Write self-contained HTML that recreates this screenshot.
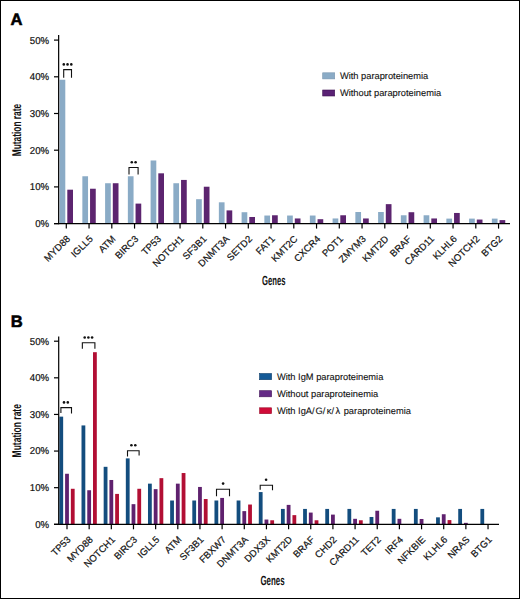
<!DOCTYPE html>
<html><head><meta charset="utf-8"><title>Mutation rate by paraproteinemia</title><style>
html,body{margin:0;padding:0;background:#fff;overflow:hidden;}
svg{display:block;}
text{font-family:"Liberation Sans", sans-serif;fill:#111;text-rendering:geometricPrecision;}
.t{font-size:9.3px;stroke:#111;stroke-width:0.1px;}
.yt{font-size:10px;stroke:#111;stroke-width:0.2px;}
.gt{font-size:9.6px;stroke:#111;stroke-width:0.2px;}
.ax{stroke:#000;stroke-width:1.2;fill:none;}
.br{stroke:#111;stroke-width:1.1;fill:none;}
.dot{fill:#111;}
.ttl{font-size:12.7px;font-weight:bold;fill:#111;}
.ttl2{font-size:13.3px;font-weight:bold;fill:#111;}
.pl{font-size:16.6px;font-weight:bold;fill:#000;stroke:#000;stroke-width:0.55px;}
</style></head><body>
<svg width="520" height="599" viewBox="0 0 520 599">
<rect x="0.5" y="0.5" width="519" height="598" fill="#fff" stroke="#000" stroke-width="1"/>
<text x="10.6" y="24.8" class="pl">A</text>
<rect x="59.6" y="79.74" width="5.7" height="143.86" fill="#8AABC6"/>
<rect x="67.3" y="189.69" width="5.7" height="33.91" fill="#5C246F"/>
<rect x="82.35" y="176.26" width="5.7" height="47.34" fill="#8AABC6"/>
<rect x="90.05" y="188.73" width="5.7" height="34.87" fill="#5C246F"/>
<rect x="105.1" y="183.23" width="5.7" height="40.37" fill="#8AABC6"/>
<rect x="112.8" y="183.23" width="5.7" height="40.37" fill="#5C246F"/>
<rect x="127.85" y="176.26" width="5.7" height="47.34" fill="#8AABC6"/>
<rect x="135.55" y="203.6" width="5.7" height="20" fill="#5C246F"/>
<rect x="150.6" y="160.48" width="5.7" height="63.12" fill="#8AABC6"/>
<rect x="158.3" y="173.32" width="5.7" height="50.28" fill="#5C246F"/>
<rect x="173.35" y="183.23" width="5.7" height="40.37" fill="#8AABC6"/>
<rect x="181.05" y="179.93" width="5.7" height="43.67" fill="#5C246F"/>
<rect x="196.1" y="199.19" width="5.7" height="24.41" fill="#8AABC6"/>
<rect x="203.8" y="186.72" width="5.7" height="36.88" fill="#5C246F"/>
<rect x="218.85" y="202.31" width="5.7" height="21.29" fill="#8AABC6"/>
<rect x="226.55" y="210.39" width="5.7" height="13.21" fill="#5C246F"/>
<rect x="241.6" y="212.22" width="5.7" height="11.38" fill="#8AABC6"/>
<rect x="249.3" y="216.99" width="5.7" height="6.61" fill="#5C246F"/>
<rect x="264.35" y="215.53" width="5.7" height="8.07" fill="#8AABC6"/>
<rect x="272.05" y="215.27" width="5.7" height="8.33" fill="#5C246F"/>
<rect x="287.1" y="215.53" width="5.7" height="8.07" fill="#8AABC6"/>
<rect x="294.8" y="218.46" width="5.7" height="5.14" fill="#5C246F"/>
<rect x="309.85" y="215.53" width="5.7" height="8.07" fill="#8AABC6"/>
<rect x="317.55" y="219.2" width="5.7" height="4.4" fill="#5C246F"/>
<rect x="332.6" y="218.46" width="5.7" height="5.14" fill="#8AABC6"/>
<rect x="340.3" y="215.27" width="5.7" height="8.33" fill="#5C246F"/>
<rect x="355.35" y="212" width="5.7" height="11.6" fill="#8AABC6"/>
<rect x="363.05" y="218.46" width="5.7" height="5.14" fill="#5C246F"/>
<rect x="378.1" y="212" width="5.7" height="11.6" fill="#8AABC6"/>
<rect x="385.8" y="204.15" width="5.7" height="19.45" fill="#5C246F"/>
<rect x="400.85" y="215.27" width="5.7" height="8.33" fill="#8AABC6"/>
<rect x="408.55" y="212.22" width="5.7" height="11.38" fill="#5C246F"/>
<rect x="423.6" y="215.27" width="5.7" height="8.33" fill="#8AABC6"/>
<rect x="431.3" y="218.46" width="5.7" height="5.14" fill="#5C246F"/>
<rect x="446.35" y="218.61" width="5.7" height="4.99" fill="#8AABC6"/>
<rect x="454.05" y="212.96" width="5.7" height="10.64" fill="#5C246F"/>
<rect x="469.1" y="218.61" width="5.7" height="4.99" fill="#8AABC6"/>
<rect x="476.8" y="219.56" width="5.7" height="4.04" fill="#5C246F"/>
<rect x="491.85" y="218.61" width="5.7" height="4.99" fill="#8AABC6"/>
<rect x="499.55" y="220.11" width="5.7" height="3.49" fill="#5C246F"/>
<line x1="58.65" y1="35" x2="58.65" y2="224.2" class="ax"/>
<line x1="54" y1="223.6" x2="58.65" y2="223.6" class="ax"/>
<text transform="translate(49.1,227) scale(0.965,1)" text-anchor="end" class="yt">0%</text>
<line x1="54" y1="186.9" x2="58.65" y2="186.9" class="ax"/>
<text transform="translate(49.1,190.3) scale(0.965,1)" text-anchor="end" class="yt">10%</text>
<line x1="54" y1="150.2" x2="58.65" y2="150.2" class="ax"/>
<text transform="translate(49.1,153.6) scale(0.965,1)" text-anchor="end" class="yt">20%</text>
<line x1="54" y1="113.5" x2="58.65" y2="113.5" class="ax"/>
<text transform="translate(49.1,116.9) scale(0.965,1)" text-anchor="end" class="yt">30%</text>
<line x1="54" y1="76.8" x2="58.65" y2="76.8" class="ax"/>
<text transform="translate(49.1,80.2) scale(0.965,1)" text-anchor="end" class="yt">40%</text>
<line x1="54" y1="40.1" x2="58.65" y2="40.1" class="ax"/>
<text transform="translate(49.1,43.5) scale(0.965,1)" text-anchor="end" class="yt">50%</text>
<line x1="54" y1="223.6" x2="510" y2="223.6" class="ax"/>
<line x1="66.3" y1="223.6" x2="66.3" y2="228.6" class="ax"/>
<text transform="translate(70.7,239.5) rotate(-45)" text-anchor="end" class="gt">MYD88</text>
<line x1="89.05" y1="223.6" x2="89.05" y2="228.6" class="ax"/>
<text transform="translate(93.45,239.5) rotate(-45)" text-anchor="end" class="gt">IGLL5</text>
<line x1="111.8" y1="223.6" x2="111.8" y2="228.6" class="ax"/>
<text transform="translate(116.2,239.5) rotate(-45)" text-anchor="end" class="gt">ATM</text>
<line x1="134.55" y1="223.6" x2="134.55" y2="228.6" class="ax"/>
<text transform="translate(138.95,239.5) rotate(-45)" text-anchor="end" class="gt">BIRC3</text>
<line x1="157.3" y1="223.6" x2="157.3" y2="228.6" class="ax"/>
<text transform="translate(161.7,239.5) rotate(-45)" text-anchor="end" class="gt">TP53</text>
<line x1="180.05" y1="223.6" x2="180.05" y2="228.6" class="ax"/>
<text transform="translate(184.45,239.5) rotate(-45)" text-anchor="end" class="gt">NOTCH1</text>
<line x1="202.8" y1="223.6" x2="202.8" y2="228.6" class="ax"/>
<text transform="translate(207.2,239.5) rotate(-45)" text-anchor="end" class="gt">SF3B1</text>
<line x1="225.55" y1="223.6" x2="225.55" y2="228.6" class="ax"/>
<text transform="translate(229.95,239.5) rotate(-45)" text-anchor="end" class="gt">DNMT3A</text>
<line x1="248.3" y1="223.6" x2="248.3" y2="228.6" class="ax"/>
<text transform="translate(252.7,239.5) rotate(-45)" text-anchor="end" class="gt">SETD2</text>
<line x1="271.05" y1="223.6" x2="271.05" y2="228.6" class="ax"/>
<text transform="translate(275.45,239.5) rotate(-45)" text-anchor="end" class="gt">FAT1</text>
<line x1="293.8" y1="223.6" x2="293.8" y2="228.6" class="ax"/>
<text transform="translate(298.2,239.5) rotate(-45)" text-anchor="end" class="gt">KMT2C</text>
<line x1="316.55" y1="223.6" x2="316.55" y2="228.6" class="ax"/>
<text transform="translate(320.95,239.5) rotate(-45)" text-anchor="end" class="gt">CXCR4</text>
<line x1="339.3" y1="223.6" x2="339.3" y2="228.6" class="ax"/>
<text transform="translate(343.7,239.5) rotate(-45)" text-anchor="end" class="gt">POT1</text>
<line x1="362.05" y1="223.6" x2="362.05" y2="228.6" class="ax"/>
<text transform="translate(366.45,239.5) rotate(-45)" text-anchor="end" class="gt">ZMYM3</text>
<line x1="384.8" y1="223.6" x2="384.8" y2="228.6" class="ax"/>
<text transform="translate(389.2,239.5) rotate(-45)" text-anchor="end" class="gt">KMT2D</text>
<line x1="407.55" y1="223.6" x2="407.55" y2="228.6" class="ax"/>
<text transform="translate(411.95,239.5) rotate(-45)" text-anchor="end" class="gt">BRAF</text>
<line x1="430.3" y1="223.6" x2="430.3" y2="228.6" class="ax"/>
<text transform="translate(434.7,239.5) rotate(-45)" text-anchor="end" class="gt">CARD11</text>
<line x1="453.05" y1="223.6" x2="453.05" y2="228.6" class="ax"/>
<text transform="translate(457.45,239.5) rotate(-45)" text-anchor="end" class="gt">KLHL6</text>
<line x1="475.8" y1="223.6" x2="475.8" y2="228.6" class="ax"/>
<text transform="translate(480.2,239.5) rotate(-45)" text-anchor="end" class="gt">NOTCH2</text>
<line x1="498.55" y1="223.6" x2="498.55" y2="228.6" class="ax"/>
<text transform="translate(502.95,239.5) rotate(-45)" text-anchor="end" class="gt">BTG2</text>
<path d="M63.7 77.7V69.6H71.5V77.7" class="br"/>
<circle cx="63.8" cy="64.4" r="1.3" class="dot"/>
<circle cx="67.55" cy="64.4" r="1.3" class="dot"/>
<circle cx="71.3" cy="64.4" r="1.3" class="dot"/>
<path d="M129 174.4V167.5H138.1V174.4" class="br"/>
<circle cx="131.8" cy="162.3" r="1.3" class="dot"/>
<circle cx="135.6" cy="162.3" r="1.3" class="dot"/>
<rect x="322.7" y="72.8" width="12" height="6.1" fill="#8AABC6" stroke="#7894ad" stroke-width="0.6"/>
<rect x="322.7" y="90.0" width="12" height="6.0" fill="#5a2275" stroke="#3f1352" stroke-width="0.6"/>
<text x="339.9" y="78.9" class="t">With paraproteinemia</text>
<text x="339.9" y="96" class="t">Without paraproteinemia</text>
<text x="262" y="284.6" class="ttl2" textLength="23.5" lengthAdjust="spacingAndGlyphs">Genes</text>
<text transform="translate(21.1,156.3) rotate(-90)" class="ttl" textLength="52.5" lengthAdjust="spacingAndGlyphs">Mutation rate</text>
<text x="10.8" y="326.5" class="pl">B</text>
<rect x="59.35" y="416.64" width="3.8" height="107.66" fill="#134D7E"/>
<rect x="65.1" y="473.76" width="3.8" height="50.54" fill="#5F216E"/>
<rect x="70.85" y="488.78" width="3.8" height="35.52" fill="#B20F34"/>
<rect x="81.51" y="425.43" width="3.8" height="98.87" fill="#134D7E"/>
<rect x="87.26" y="490.24" width="3.8" height="34.06" fill="#5F216E"/>
<rect x="93.01" y="352.19" width="3.8" height="172.11" fill="#B20F34"/>
<rect x="103.67" y="466.81" width="3.8" height="57.49" fill="#134D7E"/>
<rect x="109.42" y="479.99" width="3.8" height="44.31" fill="#5F216E"/>
<rect x="115.17" y="493.91" width="3.8" height="30.39" fill="#B20F34"/>
<rect x="125.83" y="458.38" width="3.8" height="65.92" fill="#134D7E"/>
<rect x="131.58" y="504.16" width="3.8" height="20.14" fill="#5F216E"/>
<rect x="137.33" y="488.78" width="3.8" height="35.52" fill="#B20F34"/>
<rect x="147.99" y="483.65" width="3.8" height="40.65" fill="#134D7E"/>
<rect x="153.74" y="489.14" width="3.8" height="35.16" fill="#5F216E"/>
<rect x="159.49" y="478.16" width="3.8" height="46.14" fill="#B20F34"/>
<rect x="170.15" y="500.5" width="3.8" height="23.8" fill="#134D7E"/>
<rect x="175.9" y="483.65" width="3.8" height="40.65" fill="#5F216E"/>
<rect x="181.65" y="473.03" width="3.8" height="51.27" fill="#B20F34"/>
<rect x="192.31" y="500.5" width="3.8" height="23.8" fill="#134D7E"/>
<rect x="198.06" y="486.95" width="3.8" height="37.35" fill="#5F216E"/>
<rect x="203.81" y="499.03" width="3.8" height="25.27" fill="#B20F34"/>
<rect x="214.47" y="500.5" width="3.8" height="23.8" fill="#134D7E"/>
<rect x="220.22" y="497.93" width="3.8" height="26.37" fill="#5F216E"/>
<rect x="236.63" y="500.5" width="3.8" height="23.8" fill="#134D7E"/>
<rect x="242.38" y="511.12" width="3.8" height="13.18" fill="#5F216E"/>
<rect x="248.13" y="504.53" width="3.8" height="19.77" fill="#B20F34"/>
<rect x="258.79" y="492.07" width="3.8" height="32.23" fill="#134D7E"/>
<rect x="264.54" y="519.54" width="3.8" height="4.76" fill="#5F216E"/>
<rect x="270.29" y="520.27" width="3.8" height="4.03" fill="#B20F34"/>
<rect x="280.95" y="508.92" width="3.8" height="15.38" fill="#134D7E"/>
<rect x="286.7" y="504.89" width="3.8" height="19.41" fill="#5F216E"/>
<rect x="292.45" y="515.14" width="3.8" height="9.15" fill="#B20F34"/>
<rect x="303.11" y="508.92" width="3.8" height="15.38" fill="#134D7E"/>
<rect x="308.86" y="512.58" width="3.8" height="11.72" fill="#5F216E"/>
<rect x="314.61" y="520.27" width="3.8" height="4.03" fill="#B20F34"/>
<rect x="325.27" y="508.92" width="3.8" height="15.38" fill="#134D7E"/>
<rect x="331.02" y="514.6" width="3.8" height="9.7" fill="#5F216E"/>
<rect x="347.43" y="508.92" width="3.8" height="15.38" fill="#134D7E"/>
<rect x="353.18" y="518.81" width="3.8" height="5.49" fill="#5F216E"/>
<rect x="358.93" y="520.27" width="3.8" height="4.03" fill="#B20F34"/>
<rect x="369.59" y="516.98" width="3.8" height="7.32" fill="#134D7E"/>
<rect x="375.34" y="510.75" width="3.8" height="13.55" fill="#5F216E"/>
<rect x="391.75" y="508.92" width="3.8" height="15.38" fill="#134D7E"/>
<rect x="397.5" y="518.81" width="3.8" height="5.49" fill="#5F216E"/>
<rect x="413.91" y="508.92" width="3.8" height="15.38" fill="#134D7E"/>
<rect x="419.66" y="518.99" width="3.8" height="5.31" fill="#5F216E"/>
<rect x="436.07" y="517.34" width="3.8" height="6.96" fill="#134D7E"/>
<rect x="441.82" y="514.23" width="3.8" height="10.07" fill="#5F216E"/>
<rect x="447.57" y="520.09" width="3.8" height="4.21" fill="#B20F34"/>
<rect x="458.23" y="508.92" width="3.8" height="15.38" fill="#134D7E"/>
<rect x="463.98" y="522.84" width="3.8" height="1.46" fill="#5F216E"/>
<rect x="480.39" y="508.92" width="3.8" height="15.38" fill="#134D7E"/>
<line x1="58.7" y1="336.6" x2="58.7" y2="524.9" class="ax"/>
<line x1="54" y1="524.3" x2="58.7" y2="524.3" class="ax"/>
<text transform="translate(49.1,527.7) scale(0.965,1)" text-anchor="end" class="yt">0%</text>
<line x1="54" y1="487.68" x2="58.7" y2="487.68" class="ax"/>
<text transform="translate(49.1,491.08) scale(0.965,1)" text-anchor="end" class="yt">10%</text>
<line x1="54" y1="451.06" x2="58.7" y2="451.06" class="ax"/>
<text transform="translate(49.1,454.46) scale(0.965,1)" text-anchor="end" class="yt">20%</text>
<line x1="54" y1="414.44" x2="58.7" y2="414.44" class="ax"/>
<text transform="translate(49.1,417.84) scale(0.965,1)" text-anchor="end" class="yt">30%</text>
<line x1="54" y1="377.82" x2="58.7" y2="377.82" class="ax"/>
<text transform="translate(49.1,381.22) scale(0.965,1)" text-anchor="end" class="yt">40%</text>
<line x1="54" y1="341.2" x2="58.7" y2="341.2" class="ax"/>
<text transform="translate(49.1,344.6) scale(0.965,1)" text-anchor="end" class="yt">50%</text>
<line x1="54" y1="524.3" x2="499" y2="524.3" class="ax"/>
<line x1="67" y1="524.3" x2="67" y2="529.3" class="ax"/>
<text transform="translate(71.4,540.2) rotate(-45)" text-anchor="end" class="gt">TP53</text>
<line x1="89.16" y1="524.3" x2="89.16" y2="529.3" class="ax"/>
<text transform="translate(93.56,540.2) rotate(-45)" text-anchor="end" class="gt">MYD88</text>
<line x1="111.32" y1="524.3" x2="111.32" y2="529.3" class="ax"/>
<text transform="translate(115.72,540.2) rotate(-45)" text-anchor="end" class="gt">NOTCH1</text>
<line x1="133.48" y1="524.3" x2="133.48" y2="529.3" class="ax"/>
<text transform="translate(137.88,540.2) rotate(-45)" text-anchor="end" class="gt">BIRC3</text>
<line x1="155.64" y1="524.3" x2="155.64" y2="529.3" class="ax"/>
<text transform="translate(160.04,540.2) rotate(-45)" text-anchor="end" class="gt">IGLL5</text>
<line x1="177.8" y1="524.3" x2="177.8" y2="529.3" class="ax"/>
<text transform="translate(182.2,540.2) rotate(-45)" text-anchor="end" class="gt">ATM</text>
<line x1="199.96" y1="524.3" x2="199.96" y2="529.3" class="ax"/>
<text transform="translate(204.36,540.2) rotate(-45)" text-anchor="end" class="gt">SF3B1</text>
<line x1="222.12" y1="524.3" x2="222.12" y2="529.3" class="ax"/>
<text transform="translate(226.52,540.2) rotate(-45)" text-anchor="end" class="gt">FBXW7</text>
<line x1="244.28" y1="524.3" x2="244.28" y2="529.3" class="ax"/>
<text transform="translate(248.68,540.2) rotate(-45)" text-anchor="end" class="gt">DNMT3A</text>
<line x1="266.44" y1="524.3" x2="266.44" y2="529.3" class="ax"/>
<text transform="translate(270.84,540.2) rotate(-45)" text-anchor="end" class="gt">DDX3X</text>
<line x1="288.6" y1="524.3" x2="288.6" y2="529.3" class="ax"/>
<text transform="translate(293,540.2) rotate(-45)" text-anchor="end" class="gt">KMT2D</text>
<line x1="310.76" y1="524.3" x2="310.76" y2="529.3" class="ax"/>
<text transform="translate(315.16,540.2) rotate(-45)" text-anchor="end" class="gt">BRAF</text>
<line x1="332.92" y1="524.3" x2="332.92" y2="529.3" class="ax"/>
<text transform="translate(337.32,540.2) rotate(-45)" text-anchor="end" class="gt">CHD2</text>
<line x1="355.08" y1="524.3" x2="355.08" y2="529.3" class="ax"/>
<text transform="translate(359.48,540.2) rotate(-45)" text-anchor="end" class="gt">CARD11</text>
<line x1="377.24" y1="524.3" x2="377.24" y2="529.3" class="ax"/>
<text transform="translate(381.64,540.2) rotate(-45)" text-anchor="end" class="gt">TET2</text>
<line x1="399.4" y1="524.3" x2="399.4" y2="529.3" class="ax"/>
<text transform="translate(403.8,540.2) rotate(-45)" text-anchor="end" class="gt">IRF4</text>
<line x1="421.56" y1="524.3" x2="421.56" y2="529.3" class="ax"/>
<text transform="translate(425.96,540.2) rotate(-45)" text-anchor="end" class="gt">NFKBIE</text>
<line x1="443.72" y1="524.3" x2="443.72" y2="529.3" class="ax"/>
<text transform="translate(448.12,540.2) rotate(-45)" text-anchor="end" class="gt">KLHL6</text>
<line x1="465.88" y1="524.3" x2="465.88" y2="529.3" class="ax"/>
<text transform="translate(470.28,540.2) rotate(-45)" text-anchor="end" class="gt">NRAS</text>
<line x1="488.04" y1="524.3" x2="488.04" y2="529.3" class="ax"/>
<text transform="translate(492.44,540.2) rotate(-45)" text-anchor="end" class="gt">BTG1</text>
<path d="M60.9 413.1V407.6H71.5V413.6" class="br"/>
<circle cx="64" cy="402.4" r="1.3" class="dot"/>
<circle cx="67.8" cy="402.4" r="1.3" class="dot"/>
<path d="M82.35 348.7V342.8H94.9V348.7" class="br"/>
<circle cx="84.7" cy="337.5" r="1.3" class="dot"/>
<circle cx="88.4" cy="337.5" r="1.3" class="dot"/>
<circle cx="92.1" cy="337.5" r="1.3" class="dot"/>
<path d="M127.5 456.6V450.7H139.1V455.6" class="br"/>
<circle cx="131.4" cy="445.3" r="1.3" class="dot"/>
<circle cx="135.3" cy="445.3" r="1.3" class="dot"/>
<path d="M216.5 496.2V489.3H229.5V496.2" class="br"/>
<circle cx="223.1" cy="483.6" r="1.3" class="dot"/>
<path d="M260.2 489.8V485.2H272.5V490.2" class="br"/>
<circle cx="266.1" cy="479.8" r="1.3" class="dot"/>
<rect x="259.5" y="373.5" width="12.1" height="6.2" fill="#155a97" stroke="#0f3f6a" stroke-width="0.6"/>
<rect x="259.5" y="390.7" width="12.1" height="6.1" fill="#642a86" stroke="#421558" stroke-width="0.6"/>
<rect x="259.6" y="407.8" width="12.0" height="5.9" fill="#d00b38" stroke="#990a28" stroke-width="0.6"/>
<text x="276.9" y="379.5" class="t">With IgM paraproteinemia</text>
<text x="276.9" y="396.6" class="t">Without paraproteinemia</text>
<text x="276.9" y="413.7" class="t">With IgA/<tspan dx="1">G/</tspan><tspan dx="1.4">&#954;/</tspan><tspan dx="1.5">&#955; </tspan><tspan dx="0.9">paraproteinemia</tspan></text>
<text x="260.4" y="585.4" class="ttl2" textLength="24.2" lengthAdjust="spacingAndGlyphs">Genes</text>
<text transform="translate(21.1,457.4) rotate(-90)" class="ttl" textLength="53.3" lengthAdjust="spacingAndGlyphs">Mutation rate</text>
</svg></body></html>
